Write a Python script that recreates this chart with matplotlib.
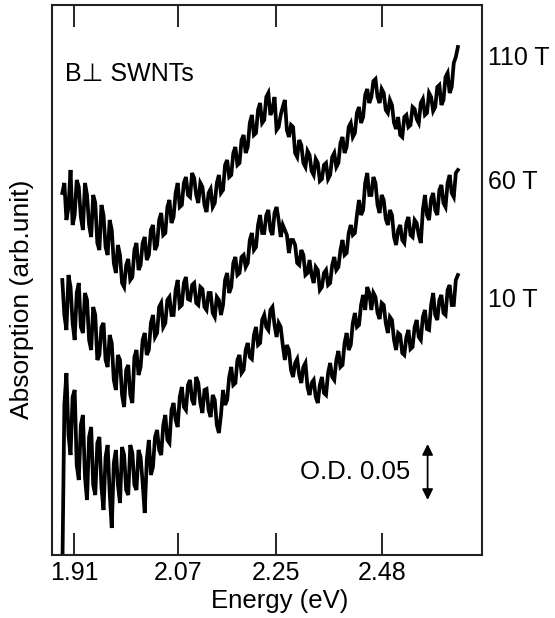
#! /usr/bin/env python3

import matplotlib
matplotlib.use("Agg")
import matplotlib.pyplot as plt
import numpy

"""
Spectres d'absorption des SWNTs sous champ perpendiculaire (décalés).
"""

plt.rcParams["font.family"] = ["Liberation Sans", "DejaVu Sans"]

# grille en longueur d'onde (nm), de 655 à 463 nm par pas de 1 nm
wavelength = numpy.linspace(655, 463, 193)

tick_energies = [1.91, 2.07, 2.25, 2.48]   # en eV
tick_labels   = ["1.91", "2.07", "2.25", "2.48"]

# absorption, unités arbitraires (57 unités = O.D. 0.05)
abs_110T = [362, 372, 335, 348, 385, 330, 340, 375, 368, 338, 325, 372, 360, 330, 318, 360, 352, 312, 305, 350,
            340, 308, 300, 335, 325, 292, 282, 310, 300, 272, 268, 290, 296, 275, 278, 305, 312, 285, 290, 312,
            318, 295, 300, 325, 330, 305, 310, 335, 342, 320, 322, 348, 355, 332, 338, 362, 372, 348, 350, 372,
            378, 360, 358, 382, 377, 360, 352, 372, 368, 350, 343, 362, 366, 348, 352, 372, 380, 362, 365, 390,
            395, 378, 380, 402, 408, 390, 392, 415, 420, 402, 408, 432, 440, 420, 422, 445, 452, 432, 435, 458,
            462, 440, 445, 458, 425, 428, 440, 448, 455, 425, 418, 430, 428, 402, 398, 415, 410, 392, 388, 404,
            400, 384, 380, 396, 392, 374, 376, 390, 392, 376, 380, 398, 402, 388, 392, 412, 418, 402, 408, 428,
            432, 418, 422, 442, 448, 432, 438, 460, 466, 452, 458, 474, 476, 458, 452, 466, 462, 445, 442, 455,
            450, 432, 426, 438, 420, 418, 438, 440, 428, 430, 448, 446, 436, 432, 452, 456, 440, 442, 462, 458,
            444, 448, 468, 470, 450, 455, 478, 482, 462, 468, 492, 498, 508]

abs_60T = [275, 240, 225, 280, 268, 232, 215, 262, 272, 228, 222, 262, 255, 215, 205, 248, 240, 195, 200, 228,
           232, 195, 188, 220, 212, 175, 165, 200, 195, 160, 148, 185, 190, 160, 152, 198, 205, 180, 188, 215,
           222, 200, 205, 232, 240, 218, 222, 248, 252, 228, 232, 255, 258, 240, 240, 265, 275, 248, 250, 272,
           278, 256, 255, 270, 272, 252, 250, 268, 266, 248, 245, 262, 262, 242, 238, 258, 255, 240, 250, 275,
           282, 262, 268, 292, 298, 280, 282, 298, 300, 288, 292, 315, 322, 305, 308, 330, 340, 322, 322, 340,
           345, 325, 320, 342, 348, 335, 318, 330, 325, 320, 302, 315, 315, 310, 292, 290, 305, 300, 280, 282,
           295, 280, 272, 288, 285, 265, 268, 282, 285, 270, 272, 290, 298, 285, 288, 305, 315, 300, 302, 322,
           330, 320, 322, 340, 355, 340, 345, 372, 382, 360, 360, 378, 372, 350, 342, 360, 355, 336, 330, 345,
           340, 318, 310, 325, 330, 315, 312, 332, 338, 320, 318, 335, 332, 320, 312, 345, 360, 340, 335, 356,
           362, 345, 340, 365, 370, 352, 348, 372, 380, 362, 358, 382, 385]

abs_10T = [-20, 150, 182, 120, 100, 158, 165, 90, 75, 130, 140, 78, 55, 118, 128, 70, 60, 112, 118, 68,
           45, 98, 110, 62, 27, 92, 105, 70, 52, 108, 100, 65, 60, 110, 102, 70, 65, 105, 98, 72,
           42, 95, 115, 80, 88, 118, 125, 105, 100, 130, 140, 115, 112, 145, 152, 135, 128, 158, 168, 148,
           145, 170, 175, 155, 150, 178, 172, 152, 142, 165, 166, 145, 138, 160, 155, 130, 122, 140, 165, 150,
           155, 178, 188, 170, 172, 195, 200, 182, 185, 205, 212, 198, 196, 220, 228, 210, 212, 235, 240, 228,
           225, 245, 248, 230, 218, 232, 228, 210, 195, 210, 205, 185, 178, 192, 196, 180, 172, 188, 192, 168,
           160, 172, 175, 158, 152, 170, 178, 162, 160, 182, 192, 178, 175, 195, 204, 188, 190, 212, 222, 205,
           210, 232, 242, 228, 230, 250, 260, 245, 268, 262, 245, 262, 258, 242, 236, 252, 250, 232, 222, 238,
           235, 215, 205, 222, 220, 202, 200, 218, 225, 206, 208, 228, 235, 218, 215, 238, 245, 226, 225, 250,
           262, 240, 235, 255, 260, 242, 240, 265, 270, 250, 250, 275, 280]

spectra = [("110 T", abs_110T, 497), ("60 T", abs_60T, 373), ("10 T", abs_10T, 255)]

"""
Création du graphe.
"""

fig = plt.figure(figsize=(5.55, 6.18), dpi=100)
ax = fig.add_axes([52 / 555, 63 / 618, 430 / 555, 550 / 618])

for name, values, label_y in spectra:
    ax.plot(wavelength, values, color="black", linewidth=2.7, solid_joinstyle="miter")
    ax.text(1.014, label_y, name, transform=ax.get_yaxis_transform(),
            fontsize=18, ha="left", va="center")

ax.set_xlim(660, 451.3)
ax.set_ylim(0, 550)

ax.set_xticks(1239.84 / numpy.array(tick_energies))
ax.set_xticklabels(tick_labels)
ax.set_yticks([])
ax.tick_params(axis="x", direction="in", length=16, width=1.2,
               top=True, bottom=True, labelsize=18, pad=4)

for spine in ax.spines.values():
    spine.set_linewidth(1.5)
    spine.set_color("#222222")

ax.set_xlabel("Energy (eV)", fontsize=18.5, va="center")
ax.xaxis.set_label_coords(0.530, -0.084)
ax.set_ylabel("Absorption (arb.unit)", fontsize=19, va="center")
ax.yaxis.set_label_coords(-0.07, 0.464)

ax.text(653.7, 481, "B\u22a5 SWNTs", fontsize=18, ha="left", va="center")

# barre d'échelle O.D. 0.05
ax.annotate("", xy=(477.7, 55), xytext=(477.7, 111),
            arrowprops=dict(arrowstyle="<|-|>", color="black", lw=1.3,
                            mutation_scale=16, shrinkA=0, shrinkB=0))
ax.text(486, 83, "O.D. 0.05", fontsize=18.5, ha="right", va="center")

plt.savefig("out.png", dpi=100)
